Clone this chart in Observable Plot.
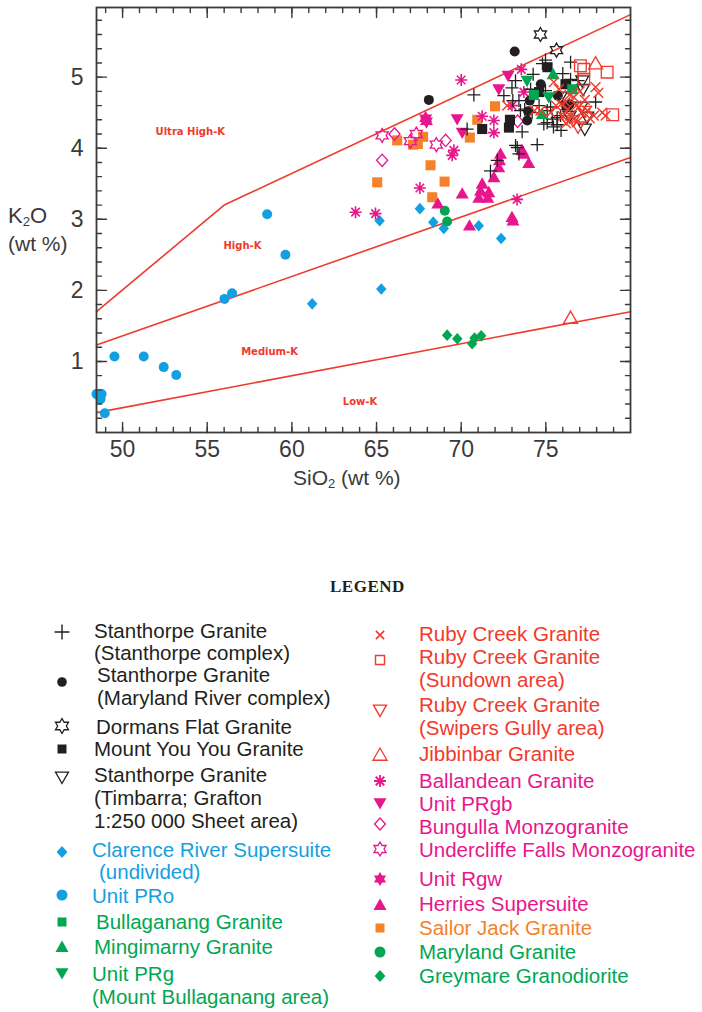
<!DOCTYPE html>
<html><head><meta charset="utf-8">
<script src="https://cdn.jsdelivr.net/npm/d3@7"></script>
<script src="https://cdn.jsdelivr.net/npm/@observablehq/plot@0.6"></script>
<style>
body{margin:0;background:#fff;}
#wrap{position:relative;width:702px;height:1012px;font-family:"Liberation Sans",Arial,sans-serif;color:#231f20;}
.t{position:absolute;white-space:nowrap;font-size:20.5px;line-height:20px;}
.s{position:absolute;overflow:visible;}
</style></head>
<body><div id="wrap"></div>
<script>
// ---------------- data (SiO2 wt %, K2O wt %) ----------------
const stanthorpeComplex = [[70.75,4.75],[70.35,4.27],[71.73,3.68],[72.13,3.83],[72.52,4.74],[73.21,4.95],[73.05,4.67],[73.41,4.67],[73.5,4.53],[73.75,4.55],[73.6,4.23],[73.21,4.04],[73.41,3.92],[73.31,4.01],[74.49,4.05],[74.1,4.83],[74.25,5.04],[74.19,4.5],[74.88,4.34],[74.98,5.24],[74.8,5.19],[74.98,4.81],[75.08,4.53],[75.08,4.36],[75.38,4.41],[75.45,4.3],[75.28,4.58],[75.67,4.43],[75.67,4.33],[75.87,4.46],[75.9,4.25],[76.46,5.21],[76.46,4.97],[77.94,4.65],[76.9,4.95],[76.0,5.05],[73.0,4.85],[74.6,4.6]];
const marylandRiverComplex = [[73.16,5.36],[68.09,4.68],[73.9,4.39],[74.05,4.67],[75.71,4.74],[74.7,4.9],[76.4,4.62],[73.95,4.52]];
const dormansFlat = [[74.68,5.6],[75.63,5.38]];
const mountYouYou = [[71.24,4.27],[72.82,4.29],[72.88,4.4],[75.1,5.14],[74.6,4.79],[76.16,4.9],[76.22,4.6]];
const timbarra = [[77.3,4.27],[77.44,4.44],[77.1,4.58],[77.2,4.83],[77.15,4.95],[75.87,4.72],[76.4,4.45]];
const clarenceRiver = [[61.2,1.81],[65.28,2.02],[65.18,2.98],[67.56,3.15],[68.35,2.96],[68.97,2.87],[71.04,2.91],[72.36,2.73]];
const unitPRo = [[48.46,0.54],[48.7,0.47],[48.76,0.54],[48.95,0.27],[49.52,1.07],[51.25,1.07],[52.43,0.92],[53.17,0.81],[56.02,1.88],[56.47,1.96],[59.62,2.5],[58.54,3.07]];
const bullaganang = [[74.29,4.75],[76.56,4.83]];
const mingimarny = [[75.43,5.04],[74.79,4.48]];
const unitPRg = [[73.89,4.95],[75.17,4.72]];
const rubyCreek = [[72.71,4.6],[74.33,4.53],[74.68,4.53],[75.28,4.5],[75.47,4.93],[75.77,4.83],[75.9,4.62],[76.16,4.65],[76.0,4.45],[76.3,4.55],[76.46,4.46],[76.65,4.72],[76.65,4.41],[76.8,4.6],[76.95,4.58],[76.9,4.38],[77.1,4.5],[77.44,4.53],[77.3,4.68],[77.6,4.42],[77.84,4.46],[77.94,4.86],[78.1,4.78],[78.33,4.5],[78.53,4.46],[76.4,4.75],[77.0,4.8],[75.6,4.6],[76.2,4.35]];
const rubySundown = [[77.04,5.16],[77.24,5.11],[77.24,4.97],[78.62,5.07],[78.95,4.47]];
const rubySwipers = [[76.6,4.39],[76.2,4.42],[77.3,4.52],[76.9,4.3]];
const jibbinbar = [[77.94,5.19],[76.46,1.61]];
const ballandean = [[70.0,4.96],[73.55,5.11],[73.7,4.79],[73.0,4.6],[71.93,4.39],[71.93,4.22],[71.24,4.45],[69.57,3.97],[69.47,3.9],[67.56,3.44],[63.76,3.1],[64.94,3.08],[73.3,3.28]];
const unitPRgb = [[72.22,4.83],[69.76,4.41],[70.06,4.22],[72.77,5.02]];
const bungulla = [[65.33,3.83],[66.06,4.2],[69.08,4.11],[73.33,4.38]];
const undercliffe = [[65.33,4.18],[67.0,4.1],[68.53,4.05],[67.35,4.2]];
const unitRgw = [[67.95,4.38],[67.9,4.42]];
const herries = [[72.32,3.92],[72.26,3.83],[72.22,3.73],[71.93,3.59],[73.6,3.97],[73.7,3.92],[73.99,3.79],[71.24,3.5],[71.14,3.4],[71.63,3.38],[70.06,3.36],[71.04,3.3],[71.57,3.3],[68.62,3.22],[70.49,2.91],[73.0,3.03],[73.06,2.98]];
const sailorJack = [[66.22,4.11],[67.16,4.05],[67.44,4.06],[67.75,4.16],[68.19,3.76],[65.04,3.52],[69.02,3.53],[68.29,3.31],[70.51,4.15],[70.95,4.4],[72.0,4.59]];
const marylandGranite = [[69.03,3.12],[69.17,2.97]];
const greymare = [[69.17,1.37],[69.77,1.32],[70.65,1.25],[70.79,1.33],[71.18,1.36]];

// boundary lines (Low/Medium, Medium/High, High/Ultra High-K)
const lowMediumLine = [[48.46,0.28],[80,1.7]];
const mediumHighLine = [[48.46,1.23],[80,3.87]];
const highUltraLine = [[48.46,1.7],[56,3.2],[80,5.88]];
const regionNames = ["Ultra High-K","High-K","Medium-K","Low-K"];
const regionSiO2 = [54.0,57.08,58.68,64.02];
const regionK2O = [4.23,2.63,1.13,0.43];

const xTickLabels = [50,55,60,65,70,75];
const yTickLabels = [1,2,3,4,5];

// ---------------- styling ----------------
const BLACK="#231f20", BLUE="#14a0e0", GREEN="#00a651", RED="#ef3a2c", MAG="#e8168c", ORANGE="#f5822a";
const mk = f => ({draw(c,size){ f(c, Math.sqrt(size/Math.PI)); }});
const SYM = {
  plus: mk((c,r)=>{c.moveTo(-r,0);c.lineTo(r,0);c.moveTo(0,-r);c.lineTo(0,r);}),
  times: mk((c,r)=>{const a=r*0.75;c.moveTo(-a,-a);c.lineTo(a,a);c.moveTo(-a,a);c.lineTo(a,-a);}),
  circle: mk((c,r)=>{c.moveTo(r,0);c.arc(0,0,r,0,2*Math.PI);c.closePath();}),
  square: mk((c,r)=>{const a=r*0.9;c.moveTo(-a,-a);c.lineTo(a,-a);c.lineTo(a,a);c.lineTo(-a,a);c.closePath();}),
  diamond: mk((c,r)=>{c.moveTo(0,-r);c.lineTo(r*0.9,0);c.lineTo(0,r);c.lineTo(-r*0.9,0);c.closePath();}),
  triUp: mk((c,r)=>{c.moveTo(0,-r);c.lineTo(r,r*0.75);c.lineTo(-r,r*0.75);c.closePath();}),
  triDown: mk((c,r)=>{c.moveTo(0,r);c.lineTo(r,-r*0.75);c.lineTo(-r,-r*0.75);c.closePath();}),
  asterisk: mk((c,r)=>{for(let k=0;k<4;k++){const a=k*Math.PI/4;c.moveTo(-r*Math.cos(a),-r*Math.sin(a));c.lineTo(r*Math.cos(a),r*Math.sin(a));}}),
  hexagram: mk((c,r)=>{for(let k=0;k<12;k++){const a=-Math.PI/2+k*Math.PI/6;const rr=k%2?r/Math.sqrt(3):r;const x=rr*Math.cos(a),y=rr*Math.sin(a);k?c.lineTo(x,y):c.moveTo(x,y);}c.closePath();})
};
// [data, symbol, r, fill, stroke, strokeWidth]
const layers = [
  [unitPRo,"circle",5,BLUE,"none",0],
  [clarenceRiver,"diamond",5.8,BLUE,"none",0],
  [greymare,"diamond",5.8,GREEN,"none",0],
  [marylandGranite,"circle",5,GREEN,"none",0],
  [sailorJack,"square",5.6,ORANGE,"none",0],
  [herries,"triUp",6.5,MAG,"none",0],
  [ballandean,"asterisk",6,"none",MAG,1.6],
  [unitPRgb,"triDown",6.5,MAG,"none",0],
  [bungulla,"diamond",6.2,"none",MAG,1.3],
  [undercliffe,"hexagram",7,"none",MAG,1.3],
  [unitRgw,"hexagram",7.5,MAG,"none",0],
  [stanthorpeComplex,"plus",6.5,"none",BLACK,1.3],
  [marylandRiverComplex,"circle",5,BLACK,"none",0],
  [dormansFlat,"hexagram",7,"none",BLACK,1.3],
  [mountYouYou,"square",5.6,BLACK,"none",0],
  [timbarra,"triDown",6.5,"none",BLACK,1.3],
  [bullaganang,"square",5.6,GREEN,"none",0],
  [mingimarny,"triUp",6.5,GREEN,"none",0],
  [unitPRg,"triDown",6.5,GREEN,"none",0],
  [rubyCreek,"times",6.5,"none",RED,1.4],
  [rubySundown,"square",6.5,"none",RED,1.3],
  [rubySwipers,"triDown",6.5,"none",RED,1.3],
  [jibbinbar,"triUp",7,"none",RED,1.3]
];

const xMinor = d3.range(49,80,1);
const yMinor = d3.range(1,30).map(k=>k*0.2);
const line = {draw(c,l){c.moveTo(0,0);c.lineTo(0,-l);}};
const AX="#3a3a3a";
const tick = (fn, vals, opt) => fn(vals, {shape: line, anchor:"start", stroke: AX, strokeWidth: 1.4, ...opt});

const regions = regionNames.map((n,i)=>({n, x: regionSiO2[i], y: regionK2O[i]}));

const plot = Plot.plot({
  width: 702, height: 500,
  marginLeft: 96, marginRight: 72, marginTop: 7, marginBottom: 68,
  x: {domain: [48.46, 80]},
  y: {domain: [0, 5.98]},
  style: {fontFamily: '"Liberation Sans", Arial, sans-serif', color: "#3a3a3a", background: "transparent", overflow: "visible"},
  marks: [
    Plot.line(lowMediumLine, {x: d=>d[0], y: d=>d[1], stroke: RED, strokeWidth: 1.6}),
    Plot.line(mediumHighLine, {x: d=>d[0], y: d=>d[1], stroke: RED, strokeWidth: 1.6}),
    Plot.line(highUltraLine, {x: d=>d[0], y: d=>d[1], stroke: RED, strokeWidth: 1.6}),
    Plot.text(regions, {x:"x", y:"y", text:"n", fill: RED, fontSize: 10, fontWeight: "bold", fontFamily: '"DejaVu Sans", sans-serif'}),
    ...layers.map(([data,sym,r,fill,stroke,sw]) => Plot.dot(data, {x: d=>d[0], y: d=>d[1], symbol: SYM[sym], r, fill, stroke, strokeWidth: sw})),
    // inward ticks on all four sides
    tick(Plot.vectorX, xMinor, {x: d=>d, frameAnchor:"bottom", rotate:0, length:5}),
    tick(Plot.vectorX, xTickLabels, {x: d=>d, frameAnchor:"bottom", rotate:0, length:10}),
    tick(Plot.vectorX, xMinor, {x: d=>d, frameAnchor:"top", rotate:180, length:5}),
    tick(Plot.vectorX, xTickLabels, {x: d=>d, frameAnchor:"top", rotate:180, length:10}),
    tick(Plot.vectorY, yMinor, {y: d=>d, frameAnchor:"left", rotate:90, length:5}),
    tick(Plot.vectorY, yTickLabels, {y: d=>d, frameAnchor:"left", rotate:90, length:10}),
    tick(Plot.vectorY, yMinor, {y: d=>d, frameAnchor:"right", rotate:-90, length:5}),
    tick(Plot.vectorY, yTickLabels, {y: d=>d, frameAnchor:"right", rotate:-90, length:10}),
    Plot.axisX(xTickLabels, {anchor:"bottom", tickSize:0, tickPadding:8, fontSize:23, label:null, tickFormat: d3.format("d")}),
    Plot.axisY(yTickLabels, {anchor:"left", tickSize:0, tickPadding:13, fontSize:23, label:null, tickFormat: d3.format("d")}),
    Plot.frame({stroke: AX, strokeWidth: 1.8})
  ]
});
const wrap = document.getElementById("wrap");
plot.style.position = "absolute"; plot.style.left = "0"; plot.style.top = "0";
wrap.appendChild(plot);

function addText(html, x, cy, color, extra="") {
  const d = document.createElement("div");
  d.className = "t"; d.innerHTML = html;
  d.style.left = x + "px"; d.style.top = (cy - 10) + "px"; d.style.color = color;
  if (extra) d.style.cssText += extra;
  wrap.appendChild(d);
}
// axis titles
addText('K<sub style="font-size:13px;vertical-align:-3px">2</sub>O', 8, 216, "#3a3a3a", "font-size:22px;");
addText('(wt %)', 8, 244, "#3a3a3a", "font-size:21px;");
addText('SiO<sub style="font-size:13px;vertical-align:-3px">2</sub> (wt %)', 293, 478, "#3a3a3a", "font-size:21px;");

// legend
addText('LEGEND', 330, 587, "#231f20", 'font-family:"Liberation Serif",serif;font-weight:bold;font-size:17px;letter-spacing:0.5px;');

function addSym(sym, x, y, r, fill, stroke, sw) {
  const p = d3.path(); SYM[sym].draw(p, r*r*Math.PI);
  const s = document.createElementNS("http://www.w3.org/2000/svg","svg");
  s.setAttribute("class","s"); s.setAttribute("width",20); s.setAttribute("height",20);
  s.style.left = (x-10)+"px"; s.style.top = (y-10)+"px";
  s.innerHTML = `<path transform="translate(10,10)" d="${p}" fill="${fill}" stroke="${stroke}" stroke-width="${sw}"/>`;
  wrap.appendChild(s);
}
const legendLeft = [
  ["Stanthorpe Granite|(Stanthorpe complex)", BLACK, "plus",7.5,"none",BLACK,1.4, 632, [94,94], [631,653]],
  ["Stanthorpe Granite|(Maryland River complex)", BLACK, "circle",4.8,BLACK,"none",0, 682, [97,97], [675,698]],
  ["Dormans Flat Granite", BLACK, "hexagram",7.5,"none",BLACK,1.3, 726, [96], [727]],
  ["Mount You You Granite", BLACK, "square",5,BLACK,"none",0, 749, [94], [749]],
  ["Stanthorpe Granite|(Timbarra; Grafton|1:250 000 Sheet area)", BLACK, "triDown",6.5,"none",BLACK,1.3, 777, [94,94,94], [775,798,821]],
  ["Clarence River Supersuite|(undivided)", BLUE, "diamond",6,BLUE,"none",0, 852, [92,99], [850,872]],
  ["Unit PRo", BLUE, "circle",5.5,BLUE,"none",0, 895, [92], [896]],
  ["Bullaganang Granite", GREEN, "square",5,GREEN,"none",0, 922, [96], [922]],
  ["Mingimarny Granite", GREEN, "triUp",6.5,GREEN,"none",0, 947, [94], [947]],
  ["Unit PRg|(Mount Bullaganang area)", GREEN, "triDown",6.5,GREEN,"none",0, 973, [92,92], [974,997]]
];
const legendRight = [
  ["Ruby Creek Granite", RED, "times",5.5,"none",RED,1.6, 635, [419], [634]],
  ["Ruby Creek Granite|(Sundown area)", RED, "square",5,"none",RED,1.4, 660, [419,419], [657,680]],
  ["Ruby Creek Granite|(Swipers Gully area)", RED, "triDown",6.5,"none",RED,1.4, 710, [419,419], [705,728]],
  ["Jibbinbar Granite", RED, "triUp",7,"none",RED,1.3, 755, [419], [754]],
  ["Ballandean Granite", MAG, "asterisk",6,"none",MAG,1.8, 781, [419], [781]],
  ["Unit PRgb", MAG, "triDown",6.5,MAG,"none",0, 803, [419], [804]],
  ["Bungulla Monzogranite", MAG, "diamond",6,"none",MAG,1.3, 824, [419], [827]],
  ["Undercliffe Falls Monzogranite", MAG, "hexagram",7,"none",MAG,1.3, 849, [419], [850]],
  ["Unit Rgw", MAG, "hexagram",7,MAG,"none",0, 879, [419], [879]],
  ["Herries Supersuite", MAG, "triUp",6.5,MAG,"none",0, 905, [419], [904]],
  ["Sailor Jack Granite", ORANGE, "square",5,ORANGE,"none",0, 928, [419], [928]],
  ["Maryland Granite", GREEN, "circle",5.5,GREEN,"none",0, 952, [419], [952]],
  ["Greymare Granodiorite", GREEN, "diamond",6,GREEN,"none",0, 976, [419], [976]]
];
legendLeft.forEach(([label,color,sym,r,fill,stroke,sw,sy,xs,ys]) => {
  addSym(sym, 62, sy, r, fill, stroke, sw);
  label.split("|").forEach((ln,i)=>addText(ln, xs[i], ys[i], color));
});
legendRight.forEach(([label,color,sym,r,fill,stroke,sw,sy,xs,ys]) => {
  addSym(sym, 380, sy, r, fill, stroke, sw);
  label.split("|").forEach((ln,i)=>addText(ln, xs[i], ys[i], color));
});
</script>
</body></html>
